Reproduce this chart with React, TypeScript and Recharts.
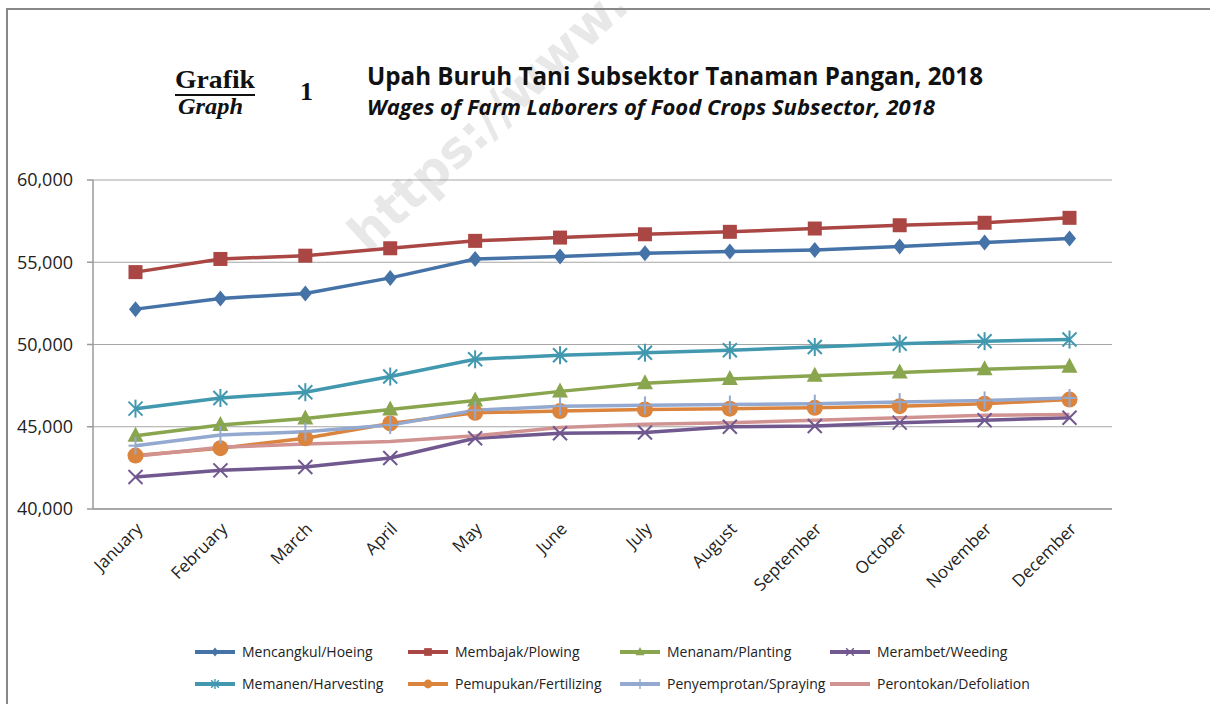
import React from "react"
import { LineChart, Line, XAxis, YAxis, CartesianGrid } from "recharts"

const months = [
  "January", "February", "March", "April", "May", "June",
  "July", "August", "September", "October", "November", "December",
]

const hoeing = [52150, 52800, 53100, 54050, 55200, 55350, 55550, 55650, 55750, 55950, 56200, 56450]
const plowing = [54400, 55200, 55400, 55850, 56300, 56500, 56700, 56850, 57050, 57250, 57400, 57700]
const planting = [44450, 45100, 45500, 46050, 46600, 47150, 47650, 47900, 48100, 48300, 48500, 48650]
const weeding = [41950, 42350, 42550, 43100, 44300, 44600, 44650, 45000, 45050, 45250, 45400, 45550]
const harvesting = [46100, 46750, 47100, 48050, 49100, 49350, 49500, 49650, 49850, 50050, 50200, 50300]
const fertilizing = [43250, 43700, 44300, 45200, 45850, 45950, 46050, 46100, 46150, 46250, 46400, 46650]
const spraying = [43850, 44500, 44700, 45100, 46000, 46250, 46300, 46350, 46400, 46500, 46600, 46750]
const defoliation = [43200, 43750, 43950, 44100, 44450, 44950, 45150, 45250, 45400, 45550, 45700, 45750]

const yTicks = [40000, 45000, 50000, 55000, 60000]
const edgeTicks = [0, 1, 2, 3, 4, 5, 6, 7, 8, 9, 10, 11, 12]

type Shape = "diamond" | "square" | "triangle" | "x" | "asterisk" | "circle" | "plus" | "none"

const series: { key: string; name: string; color: string; shape: Shape; values: number[] }[] = [
  { key: "hoeing", name: "Mencangkul/Hoeing", color: "#4572A7", shape: "diamond", values: hoeing },
  { key: "plowing", name: "Membajak/Plowing", color: "#AA4643", shape: "square", values: plowing },
  { key: "planting", name: "Menanam/Planting", color: "#89A54E", shape: "triangle", values: planting },
  { key: "weeding", name: "Merambet/Weeding", color: "#71588F", shape: "x", values: weeding },
  { key: "harvesting", name: "Memanen/Harvesting", color: "#4198AF", shape: "asterisk", values: harvesting },
  { key: "fertilizing", name: "Pemupukan/Fertilizing", color: "#DB843D", shape: "circle", values: fertilizing },
  { key: "spraying", name: "Penyemprotan/Spraying", color: "#93A9CF", shape: "plus", values: spraying },
  { key: "defoliation", name: "Perontokan/Defoliation", color: "#D19392", shape: "none", values: defoliation },
]

const data = months.map((m, i) => {
  const row: Record<string, any> = { month: m }
  series.forEach((s) => (row[s.key] = s.values[i]))
  return row
})

const FONT = "'Open Sans', 'Noto Sans', sans-serif"

function marker(shape: Shape, cx: number, cy: number, color: string, k: number, key?: any) {
  const sw = 2 * Math.max(k, 0.7)
  switch (shape) {
    case "diamond":
      return (
        <polygon key={key} fill={color}
          points={`${cx},${cy - 8 * k} ${cx + 6.5 * k},${cy} ${cx},${cy + 8 * k} ${cx - 6.5 * k},${cy}`} />
      )
    case "square":
      return <rect key={key} x={cx - 7 * k} y={cy - 7 * k} width={14 * k} height={14 * k} fill={color} />
    case "triangle":
      return (
        <polygon key={key} fill={color}
          points={`${cx},${cy - 9 * k} ${cx + 8 * k},${cy + 6 * k} ${cx - 8 * k},${cy + 6 * k}`} />
      )
    case "x":
      return (
        <g key={key} stroke={color} strokeWidth={sw}>
          <line x1={cx - 7 * k} y1={cy - 7 * k} x2={cx + 7 * k} y2={cy + 7 * k} />
          <line x1={cx - 7 * k} y1={cy + 7 * k} x2={cx + 7 * k} y2={cy - 7 * k} />
        </g>
      )
    case "asterisk":
      return (
        <g key={key} stroke={color} strokeWidth={sw}>
          <line x1={cx - 7 * k} y1={cy - 7 * k} x2={cx + 7 * k} y2={cy + 7 * k} />
          <line x1={cx - 7 * k} y1={cy + 7 * k} x2={cx + 7 * k} y2={cy - 7 * k} />
          <line x1={cx} y1={cy - 9 * k} x2={cx} y2={cy + 9 * k} />
        </g>
      )
    case "circle":
      return <circle key={key} cx={cx} cy={cy} r={8 * k} fill={color} />
    case "plus":
      return (
        <g key={key} stroke={color} strokeWidth={sw}>
          <line x1={cx} y1={cy - 9 * k} x2={cx} y2={cy + 9 * k} />
          <line x1={cx - 7 * k} y1={cy} x2={cx + 7 * k} y2={cy} />
        </g>
      )
    default:
      return <g key={key} />
  }
}

const MonthTick = (props: any) => {
  const { x, y, payload } = props
  const tx = x + 8
  const ty = y + 13
  return (
    <text x={tx} y={ty} transform={`rotate(-45, ${tx}, ${ty})`} textAnchor="end"
      fontFamily={FONT} fontSize={17} fill="#222">
      {payload.value}
    </text>
  )
}

const legendCols = [195, 408, 620, 830]
const legendRows = [652, 684]

function Backdrop() {
  return (
    <svg width={1210} height={704} style={{ position: "absolute", left: 0, top: 0 }}>
      <text x={368} y={254} transform="rotate(-43, 368, 254)" fontFamily="'DejaVu Sans', sans-serif"
        fontWeight="bold" fontSize={50} fill="#e8e8e8">
        https://www.
      </text>
      <line x1={7} y1={9} x2={1210} y2={9} stroke="#888" strokeWidth={2} />
      <line x1={7} y1={8} x2={7} y2={704} stroke="#888" strokeWidth={2} />

      <text x={175} y={88} fontFamily="'Liberation Serif', serif" fontWeight="bold" fontSize={26}
        textLength={80} lengthAdjust="spacingAndGlyphs" fill="#111">Grafik</text>
      <line x1={175} y1={95} x2={255} y2={95} stroke="#111" strokeWidth={2} />
      <text x={178} y={114} fontFamily="'Liberation Serif', serif" fontStyle="italic" fontWeight="bold"
        fontSize={23} textLength={65} lengthAdjust="spacingAndGlyphs" fill="#111">Graph</text>
      <text x={300} y={100} fontFamily="'Liberation Serif', serif" fontWeight="bold" fontSize={26} fill="#111">1</text>

      <text x={367} y={85} fontFamily={FONT} fontWeight="bold" fontSize={25}
        textLength={616} lengthAdjust="spacingAndGlyphs" fill="#111">
        Upah Buruh Tani Subsektor Tanaman Pangan, 2018
      </text>
      <text x={367} y={115} fontFamily={FONT} fontWeight="bold" fontStyle="italic" fontSize={21}
        textLength={568} lengthAdjust="spacingAndGlyphs" fill="#111">
        Wages of Farm Laborers of Food Crops Subsector, 2018
      </text>

      {series.map((s, i) => {
        const x = legendCols[i % 4]
        const y = legendRows[Math.floor(i / 4)]
        return (
          <g key={s.key}>
            <line x1={x} y1={y} x2={x + 40} y2={y} stroke={s.color} strokeWidth={4} />
            {marker(s.shape, x + 20, y, s.color, 0.55)}
            <text x={x + 47} y={y + 5} fontFamily={FONT} fontSize={14} fill="#222">{s.name}</text>
          </g>
        )
      })}
    </svg>
  )
}

export default function App() {
  return (
    <div style={{ position: "absolute", left: 0, top: 0, width: 1210, height: 704, background: "#fff" }}>
      <Backdrop />
      <div style={{ position: "absolute", left: 0, top: 0 }}>
        <LineChart width={1210} height={704} data={data}
          margin={{ top: 180, right: 98, left: 13, bottom: 75 }}>
          <CartesianGrid vertical={false} stroke="#a6a6a6" strokeWidth={1.2} />
          <XAxis xAxisId="edges" type="number" domain={[0, 12]} ticks={edgeTicks} tick={false}
            height={0} axisLine={false} tickLine={{ stroke: "#9a9a9a", strokeWidth: 1.5 }} tickSize={7}
            allowDataOverflow />
          <XAxis dataKey="month" interval={0} height={120} tick={<MonthTick />} tickLine={false}
            axisLine={{ stroke: "#9a9a9a", strokeWidth: 1.5 }} padding={{ left: 42.5, right: 42.5 }} />
          <YAxis width={80} domain={[40000, 60000]} ticks={yTicks} interval={0}
            tickFormatter={(v: number) => v.toLocaleString("en-US")}
            axisLine={{ stroke: "#9a9a9a", strokeWidth: 1.5 }} tickLine={{ stroke: "#9a9a9a", strokeWidth: 1.5 }}
            tickSize={6} tickMargin={14}
            tick={{ fontFamily: FONT, fontSize: 18, fill: "#222" }} />
          {series.map((s) => (
            <Line key={s.key} type="linear" dataKey={s.key} name={s.name} stroke={s.color}
              strokeWidth={3.5} isAnimationActive={false}
              dot={(p: any) => marker(s.shape, p.cx, p.cy, s.color, 1, `${s.key}-${p.index}`)}
              activeDot={false} />
          ))}
        </LineChart>
      </div>
    </div>
  )
}
